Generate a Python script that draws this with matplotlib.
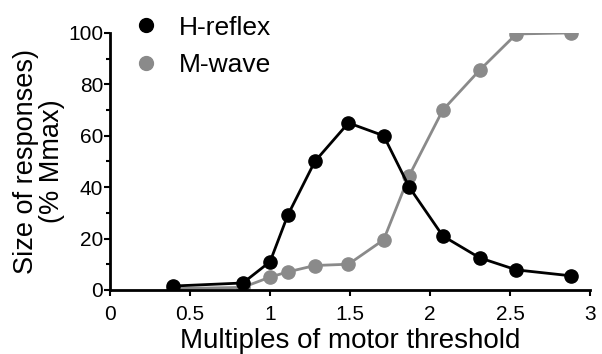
import matplotlib.pyplot as plt
from matplotlib.ticker import MultipleLocator

plt.rcParams['font.family'] = ['Liberation Sans', 'DejaVu Sans']

# stimulus intensity (multiples of motor threshold)
x_vals = [0.39, 0.83, 1.0, 1.11, 1.28, 1.49, 1.71, 1.87, 2.08, 2.31, 2.54, 2.88]
# response sizes (% Mmax)
h_reflex = [1.5, 2.7, 11, 29, 50, 65, 60, 40, 21, 12.5, 7.8, 5.5]
m_wave = [0.5, 1, 5, 7, 9.5, 10, 19.5, 44.5, 70, 85.5, 99.6, 100]

x_ticks = [0, 0.5, 1, 1.5, 2, 2.5, 3]
x_ticklabels = ['0', '0.5', '1', '1.5', '2', '2.5', '3']

fig = plt.figure(figsize=(6.02, 3.54), dpi=100)
ax = fig.add_axes([0.183, 0.181, 0.797, 0.726])

grey = '#8a8a8a'
ax.plot(x_vals, m_wave, '-o', color=grey, lw=2, ms=9.5, label='M-wave', zorder=2)
ax.plot(x_vals, h_reflex, '-o', color='black', lw=2, ms=9.5, label='H-reflex', zorder=3)

ax.set_xlim(0, 3)
ax.set_ylim(0, 100)
ax.set_xticks(x_ticks)
ax.set_xticklabels(x_ticklabels)
ax.yaxis.set_major_locator(MultipleLocator(20))
ax.yaxis.set_minor_locator(MultipleLocator(10))

for s in ['top', 'right']:
    ax.spines[s].set_visible(False)
for s in ['left', 'bottom']:
    ax.spines[s].set_linewidth(2)
ax.tick_params(which='major', width=1.5, length=4, labelsize=15, pad=1)
ax.tick_params(axis='x', which='major', pad=7)
ax.tick_params(which='minor', width=1.5, length=3)

ax.set_xlabel('Multiples of motor threshold', fontsize=20, labelpad=3)
ax.set_ylabel('Size of responses)\n(% Mmax)', fontsize=19.5, labelpad=2,
              linespacing=1.0)

handles, labels = ax.get_legend_handles_labels()
ax.legend(handles[::-1], labels[::-1], loc='upper left', bbox_to_anchor=(0.025, 1.16),
          frameon=False, fontsize=19, handlelength=0, handletextpad=1.25,
          labelspacing=0.5, markerscale=1.05)

fig.savefig('out.png', dpi=100)
